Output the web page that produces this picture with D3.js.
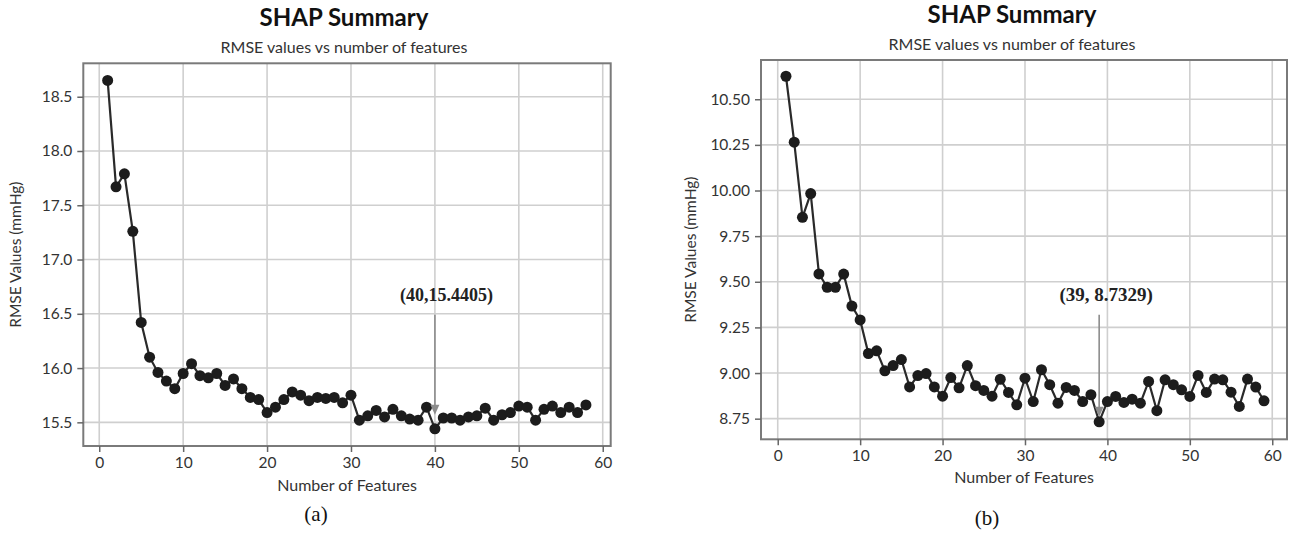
<!DOCTYPE html>
<html><head><meta charset="utf-8">
<script src="https://cdn.jsdelivr.net/npm/d3@7"></script>
<style>body{margin:0;background:#fff} svg{display:block}</style>
</head><body><svg id="chart" width="1290" height="535"></svg>
<script>
// ---------- data ----------
const featuresA = [1,2,3,4,5,6,7,8,9,10,11,12,13,14,15,16,17,18,19,20,21,22,23,24,25,26,27,28,29,30,31,32,33,34,35,36,37,38,39,40,41,42,43,44,45,46,47,48,49,50,51,52,53,54,55,56,57,58];
const rmseA = [18.65,17.67,17.79,17.26,16.42,16.10,15.96,15.88,15.81,15.95,
  16.04,15.93,15.91,15.95,15.84,15.90,15.81,15.73,15.71,15.59,
  15.64,15.71,15.78,15.75,15.70,15.73,15.72,15.73,15.68,15.75,
  15.52,15.56,15.61,15.55,15.62,15.56,15.53,15.52,15.64,15.4405,
  15.54,15.54,15.52,15.55,15.56,15.63,15.52,15.57,15.59,15.65,
  15.64,15.52,15.62,15.65,15.59,15.64,15.59,15.66];
const featuresB = [1,2,3,4,5,6,7,8,9,10,11,12,13,14,15,16,17,18,19,20,21,22,23,24,25,26,27,28,29,30,31,32,33,34,35,36,37,38,39,40,41,42,43,44,45,46,47,48,49,50,51,52,53,54,55,56,57,58,59];
const rmseB = [10.626,10.265,9.853,9.983,9.543,9.470,9.470,9.542,9.367,9.291,
  9.107,9.122,9.012,9.041,9.074,8.924,8.986,8.997,8.924,8.873,
  8.975,8.919,9.041,8.931,8.905,8.873,8.966,8.894,8.826,8.972,
  8.844,9.018,8.936,8.835,8.921,8.905,8.844,8.881,8.7329,8.844,
  8.872,8.839,8.857,8.835,8.954,8.794,8.963,8.936,8.908,8.872,
  8.987,8.894,8.967,8.963,8.895,8.817,8.967,8.923,8.848];
const xTickValues = [0,10,20,30,40,50,60];
const yTicksA = [15.5,16.0,16.5,17.0,17.5,18.0,18.5];
const yTicksB = [8.75,9.00,9.25,9.50,9.75,10.00,10.25,10.50];
const highlightA = [40, 15.4405];
const highlightB = [39, 8.7329];
const highlightLabels = ["(40,15.4405)", "(39, 8.7329)"];
const titleText = "SHAP Summary";
const subtitleText = "RMSE values vs number of features";
const xLabelText = "Number of Features";
const yLabelText = "RMSE Values (mmHg)";
const captions = ["(a)", "(b)"];

// ---------- drawing ----------
const svg = d3.select("#chart");
const SANS = "Lato, 'Open Sans', sans-serif";
const SERIF = "'Liberation Serif', 'DejaVu Serif', serif";

function panel(o) {
  const g = svg.append("g");
  const x = d3.scaleLinear().domain(o.xDomain).range([o.left, o.right]);
  const y = d3.scaleLinear().domain(o.yDomain).range([o.bottom, o.top]);

  // gridlines
  g.append("g").selectAll("line").data(xTickValues).join("line")
    .attr("x1", d => x(d)).attr("x2", d => x(d))
    .attr("y1", o.top).attr("y2", o.bottom)
    .attr("stroke", "#cfcfcf").attr("stroke-width", 1.6);
  g.append("g").selectAll("line").data(o.yTicks).join("line")
    .attr("x1", o.left).attr("x2", o.right)
    .attr("y1", d => y(d)).attr("y2", d => y(d))
    .attr("stroke", "#cfcfcf").attr("stroke-width", 1.6);

  // frame
  g.append("rect").attr("x", o.left).attr("y", o.top)
    .attr("width", o.right - o.left).attr("height", o.bottom - o.top)
    .attr("fill", "none").attr("stroke", "#7a7a7a").attr("stroke-width", 2);

  // axes
  const ax = g.append("g").attr("transform", `translate(0,${o.bottom})`)
    .call(d3.axisBottom(x).tickValues(xTickValues).tickSize(6).tickPadding(5).tickFormat(d3.format("d")));
  const ay = g.append("g").attr("transform", `translate(${o.left},0)`)
    .call(d3.axisLeft(y).tickValues(o.yTicks).tickSize(6).tickPadding(5).tickFormat(d3.format(o.yFmt)));
  [ax, ay].forEach(a => {
    a.select(".domain").remove();
    a.selectAll(".tick line").attr("stroke", "#666").attr("stroke-width", 1.5);
    a.selectAll(".tick text").attr("fill", "#333").style("font-family", SANS).style("font-size", "15.5px");
  });

  // series line + markers
  const pts = o.features.map((f, i) => [f, o.values[i]]);
  g.append("path").datum(pts)
    .attr("fill", "none").attr("stroke", "#2a2a2a").attr("stroke-width", 2.2)
    .attr("d", d3.line().x(d => x(d[0])).y(d => y(d[1])));
  g.append("g").selectAll("circle").data(pts).join("circle")
    .attr("cx", d => x(d[0])).attr("cy", d => y(d[1])).attr("r", 5.5)
    .attr("fill", "#1c1c1c");

  // annotation
  const hx = x(o.highlight[0]), hy = y(o.highlight[1]);
  const tip = hy - o.tipGap, start = hy - o.arrowLen;
  g.append("line").attr("x1", hx).attr("x2", hx).attr("y1", start).attr("y2", tip - 8)
    .attr("stroke", "#8c8c8c").attr("stroke-width", 1.6);
  g.append("path")
    .attr("d", `M${hx - 4.5},${tip - 10}L${hx + 4.5},${tip - 10}L${hx},${tip}Z`)
    .attr("fill", "#8c8c8c");
  g.append("text").attr("x", hx + o.labelDx).attr("y", start - 14)
    .attr("text-anchor", "middle")
    .style("font-family", SERIF).style("font-weight", "bold").style("font-size", o.labelSize + "px")
    .attr("fill", "#222").text(o.highlightLabel);

  // titles and labels
  const cx = o.titleX;
  g.append("text").attr("x", cx).attr("y", o.titleY).attr("text-anchor", "middle")
    .style("font-family", SANS).style("font-weight", "bold").style("font-size", "24px")
    .attr("fill", "#111").text(titleText);
  g.append("text").attr("x", cx).attr("y", o.titleY + 27).attr("text-anchor", "middle")
    .style("font-family", SANS).style("font-size", "16px")
    .attr("fill", "#333").text(subtitleText);
  g.append("text").attr("x", (o.left + o.right) / 2).attr("y", o.xLabelY).attr("text-anchor", "middle")
    .style("font-family", SANS).style("font-size", "16px")
    .attr("fill", "#333").text(xLabelText);
  g.append("text").attr("transform", `translate(${o.yLabelX},${(o.top + o.bottom) / 2}) rotate(-90)`)
    .attr("text-anchor", "middle")
    .style("font-family", SANS).style("font-size", "15.5px")
    .attr("fill", "#333").text(yLabelText);
  g.append("text").attr("x", o.capX).attr("y", o.capY).attr("text-anchor", "middle")
    .style("font-family", SERIF).style("font-size", "21px")
    .attr("fill", "#111").text(o.caption);
}

panel({
  features: featuresA, values: rmseA, yTicks: yTicksA, yFmt: ".1f",
  highlight: highlightA, highlightLabel: highlightLabels[0],
  left: 83.3, right: 610.7, top: 63.3, bottom: 446,
  xDomain: [-1.9, 60.95], yDomain: [15.282, 18.808],
  tipGap: 14, arrowLen: 114, labelDx: 11.7, labelSize: 18,
  titleX: 344, titleY: 26, xLabelY: 491, yLabelX: 21,
  caption: captions[0], capX: 316, capY: 521
});

panel({
  features: featuresB, values: rmseB, yTicks: yTicksB, yFmt: ".2f",
  highlight: highlightB, highlightLabel: highlightLabels[1],
  left: 761, right: 1287, top: 60, bottom: 439.3,
  xDomain: [-2.03, 61.79], yDomain: [8.637, 10.715],
  tipGap: 5, arrowLen: 107, labelDx: 7, labelSize: 19,
  titleX: 1012, titleY: 23, xLabelY: 483, yLabelX: 696,
  caption: captions[1], capX: 987, capY: 525
});
</script></body></html>
